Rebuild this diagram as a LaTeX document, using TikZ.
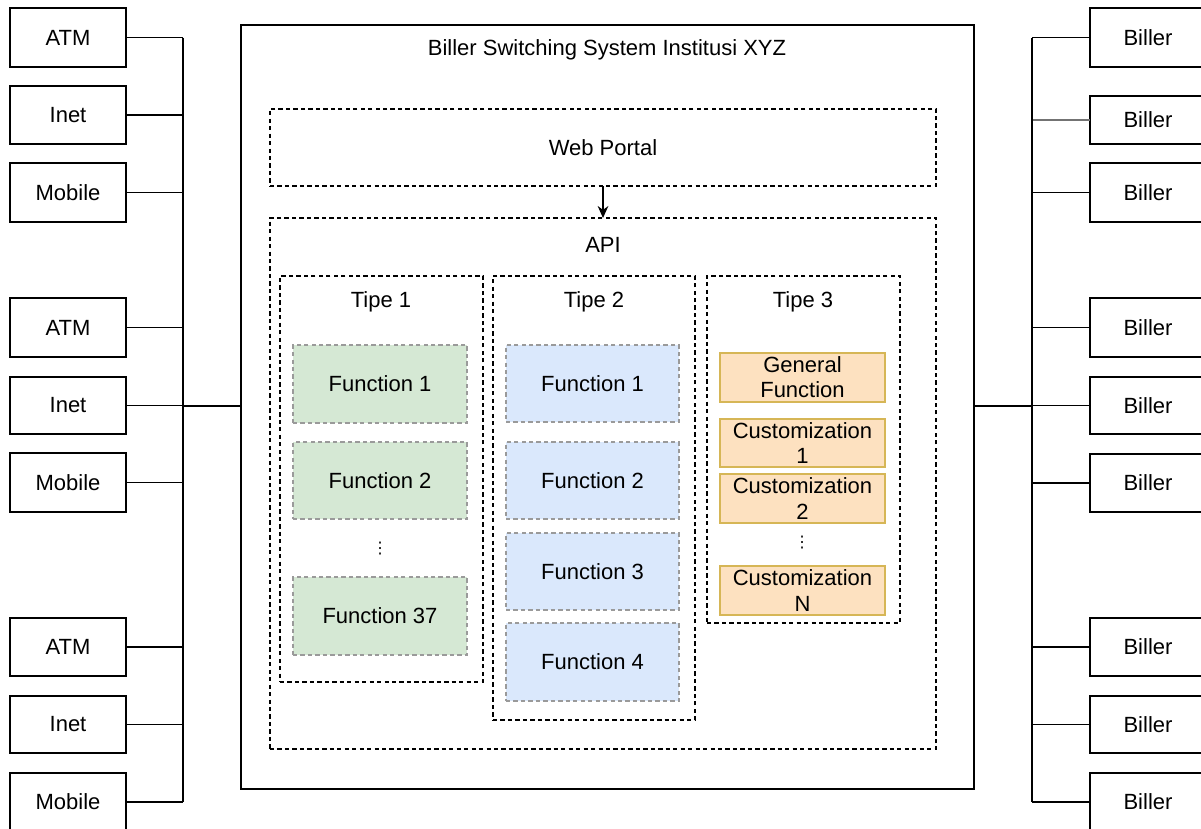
\documentclass[tikz,border=0pt]{standalone}
\usepackage{fontspec}
\setmainfont{Liberation Sans}
\newfontfamily\symbolfont{DejaVu Sans}
\usetikzlibrary{arrows.meta}

\definecolor{greenfill}{HTML}{D5E8D4}
\definecolor{bluefill}{HTML}{DAE8FC}
\definecolor{orangefill}{HTML}{FDE1C0}
\definecolor{orangeline}{HTML}{D6B656}
\definecolor{softline}{HTML}{9A9A9A}

% Rectangle node given by its corners (x1,y1) and (x2,y2) in pixel units
\newcommand\rectbox[7][]{%
  \node[#1, minimum width={(#5-#3)*0.75pt}, minimum height={(#6-#4)*0.75pt}]
    (#2) at ({(#3+#5)/2},{(#4+#6)/2}) {#7};}

\begin{document}
\begin{tikzpicture}[x=0.75pt,y=-0.75pt,
  every node/.style={font=\fontsize{16.5}{18.8}\selectfont, inner sep=0pt, outer sep=0pt, align=center},
  solidbox/.style={draw, line width=1.1pt, fill=white},
  container/.style={draw, line width=1.1pt, dashed, dash pattern=on 3.2pt off 2.4pt},
  greenfn/.style={draw=softline, line width=0.8pt, dash pattern=on 3.2pt off 2.4pt, fill=greenfill},
  bluefn/.style={draw=softline, line width=0.8pt, dash pattern=on 3.2pt off 2.4pt, fill=bluefill},
  orangefn/.style={draw=orangeline, line width=0.9pt, fill=orangefill},
  ellipsis/.style={font=\symbolfont\fontsize{12}{12}\selectfont},
  wire/.style={line width=1.1pt},
  softwire/.style={line width=1.1pt, draw=black!55},
  arrowline/.style={line width=1.1pt, -{Stealth[length=9pt,width=8pt]}}]

\clip (0,0) rectangle (1201,828);
\fill[white] (0,0) rectangle (1201,828);

% channels on the left
\rectbox[solidbox]{atmA}{10}{8}{126}{67}{ATM}
\rectbox[solidbox]{inetA}{10}{86}{126}{144}{Inet}
\rectbox[solidbox]{mobA}{10}{163}{126}{222}{Mobile}
\rectbox[solidbox]{atmB}{10}{298}{126}{357}{ATM}
\rectbox[solidbox]{inetB}{10}{377}{126}{434}{Inet}
\rectbox[solidbox]{mobB}{10}{453}{126}{512}{Mobile}
\rectbox[solidbox]{atmC}{10}{618}{126}{676}{ATM}
\rectbox[solidbox]{inetC}{10}{696}{126}{753}{Inet}
\rectbox[solidbox]{mobC}{10}{773}{126}{831}{Mobile}

% billers on the right
\rectbox[solidbox]{billA}{1090}{8}{1206}{67}{Biller}
\rectbox[solidbox]{billB}{1090}{96}{1206}{144}{Biller}
\rectbox[solidbox]{billC}{1090}{163}{1206}{222}{Biller}
\rectbox[solidbox]{billD}{1090}{298}{1206}{357}{Biller}
\rectbox[solidbox]{billE}{1090}{377}{1206}{434}{Biller}
\rectbox[solidbox]{billF}{1090}{454}{1206}{512}{Biller}
\rectbox[solidbox]{billG}{1090}{618}{1206}{676}{Biller}
\rectbox[solidbox]{billH}{1090}{696}{1206}{753}{Biller}
\rectbox[solidbox]{billI}{1090}{773}{1206}{831}{Biller}

% switching system
\rectbox[solidbox]{sys}{241}{25}{974}{789}{}
\node (title) at (607,50) {Biller Switching System Institusi XYZ};

\rectbox[container]{portal}{270}{109}{936}{186}{Web Portal}
\rectbox[container]{api}{270}{218}{936}{749}{}
\node (apilabel) at (603,245) {API};

\rectbox[container]{tipeA}{280}{276}{483}{682}{}
\rectbox[container]{tipeB}{493}{276}{695}{720}{}
\rectbox[container]{tipeC}{707}{276}{900}{623}{}
\node (tipeAlabel) at (381,302) {Tipe 1};
\node (tipeBlabel) at (594,302) {Tipe 2};
\node (tipeClabel) at (803,302) {Tipe 3};

% Tipe 1 functions
\rectbox[greenfn]{gA}{293}{345}{467}{423}{Function 1}
\rectbox[greenfn]{gB}{293}{442}{467}{519}{Function 2}
\node[ellipsis] (gdots) at (380,549) {⋮};
\rectbox[greenfn]{gC}{293}{577}{467}{655}{Function 37}

% Tipe 2 functions
\rectbox[bluefn]{bA}{506}{345}{679}{422}{Function 1}
\rectbox[bluefn]{bB}{506}{442}{679}{519}{Function 2}
\rectbox[bluefn]{bC}{506}{533}{679}{610}{Function 3}
\rectbox[bluefn]{bD}{506}{623}{679}{701}{Function 4}

% Tipe 3 functions
\rectbox[orangefn]{oA}{720}{353}{885}{402}{General\\Function}
\rectbox[orangefn]{oB}{720}{419}{885}{467}{Customization\\1}
\rectbox[orangefn]{oC}{720}{474}{885}{523}{Customization\\2}
\node[ellipsis] (odots) at (802,543) {⋮};
\rectbox[orangefn]{oD}{720}{566}{885}{615}{Customization\\N}

\draw[arrowline] (portal.south -| apilabel) -- (api.north -| apilabel);

% left bus
\coordinate (busL) at (183,406);
\foreach \n in {atmA,inetA,mobA,atmB,inetB,mobB,atmC,inetC,mobC}
  \draw[wire] (\n.east) -- (\n.east -| busL);
\draw[wire] (atmA.east -| busL) -- (mobC.east -| busL);
\draw[wire] (busL) -- (busL -| sys.west);

% right bus
\coordinate (busR) at (1032,406);
\foreach \n in {billA,billC,billD,billE,billF,billG,billH,billI}
  \draw[wire] (\n.west) -- (\n.west -| busR);
\draw[softwire] (billB.west) -- (billB.west -| busR);
\draw[wire] (billA.west -| busR) -- (billI.west -| busR);
\draw[wire] (busR) -- (busR -| sys.east);

\end{tikzpicture}
\end{document}
